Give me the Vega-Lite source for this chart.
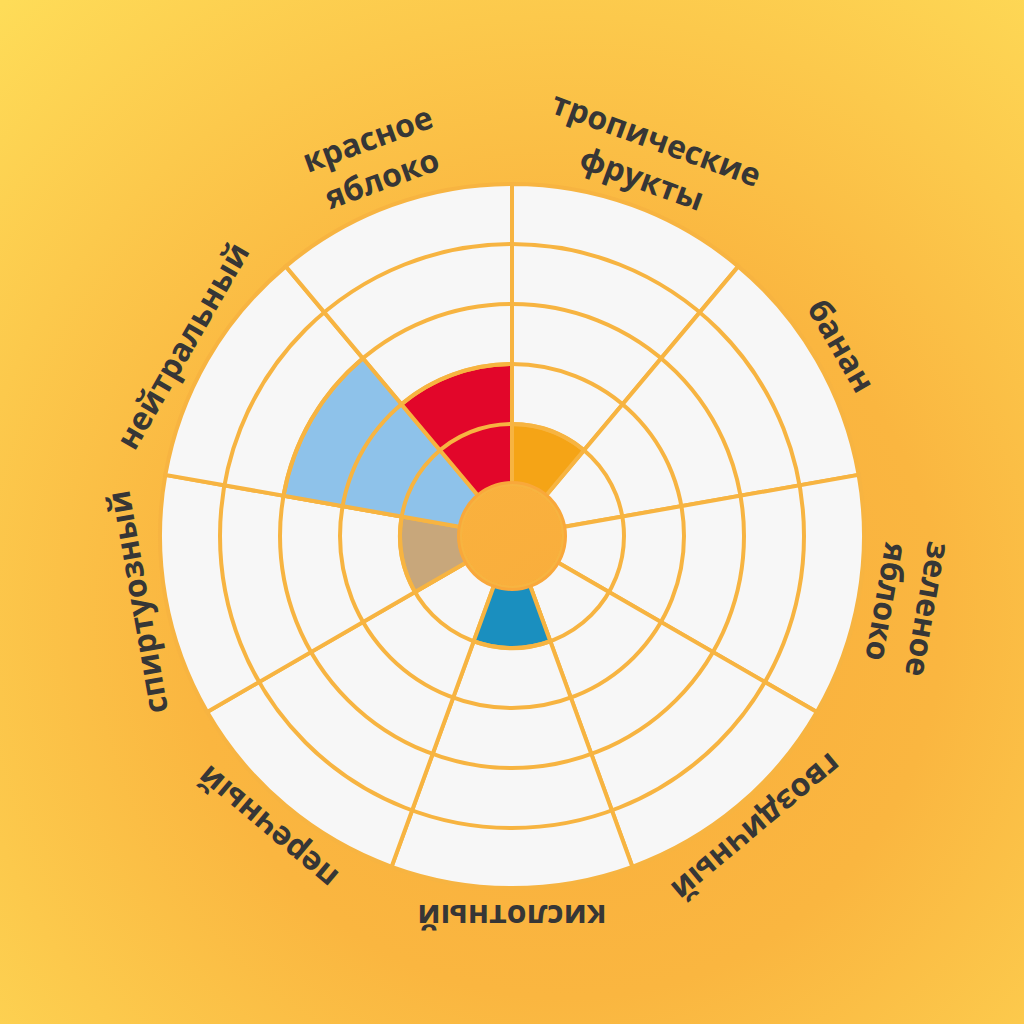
{
  "$schema": "https://vega.github.io/schema/vega-lite/v6.json",
  "width": 1024,
  "height": 1072,
  "autosize": {"type": "none"},
  "padding": {"left": 0, "top": 0, "right": 0, "bottom": -48},
  "background": "#FBC24A",
  "config": {"view": {"stroke": null}},
  "datasets": {
    "aromas": [
      {"i": 0, "aroma": "тропические фрукты", "outer": "тропические", "inner": "фрукты", "value": 1, "share": 1},
      {"i": 1, "aroma": "банан", "outer": "", "inner": "банан", "value": 0, "share": 1},
      {"i": 2, "aroma": "зеленое яблоко", "outer": "зеленое", "inner": "яблоко", "value": 0, "share": 1},
      {"i": 3, "aroma": "гвоздичный", "outer": "", "inner": "гвоздичный", "value": 0, "share": 1},
      {"i": 4, "aroma": "кислотный", "outer": "", "inner": "кислотный", "value": 1, "share": 1},
      {"i": 5, "aroma": "перечный", "outer": "", "inner": "перечный", "value": 0, "share": 1},
      {"i": 6, "aroma": "спиртуозный", "outer": "", "inner": "спиртуозный", "value": 1, "share": 1},
      {"i": 7, "aroma": "нейтральный", "outer": "", "inner": "нейтральный", "value": 3, "share": 1},
      {"i": 8, "aroma": "красное яблоко", "outer": "красное", "inner": "яблоко", "value": 2, "share": 1}
    ],
    "levels": [{"level": 1}, {"level": 2}, {"level": 3}, {"level": 4}],
    "single": [{}]
  },
  "layer": [
    {
      "data": {"name": "single"},
      "mark": {
        "type": "rect",
        "fill": {
          "gradient": "radial",
          "x1": 0.55, "y1": 0.58, "r1": 0,
          "x2": 0.55, "y2": 0.58, "r2": 0.78,
          "stops": [
            {"offset": 0, "color": "#F9AD3C"},
            {"offset": 0.45, "color": "#FAB640"},
            {"offset": 1, "color": "#FEDC58"}
          ]
        }
      },
      "encoding": {}
    },
    {
      "data": {"name": "aromas"},
      "mark": {"type": "arc", "fill": "#F7F7F7", "stroke": "#F7B441", "strokeWidth": 4},
      "encoding": {
        "theta": {"field": "share", "type": "quantitative", "stack": true},
        "order": {"field": "i", "type": "quantitative"},
        "radius": {"datum": 5, "scale": {"type": "linear", "zero": false, "domain": [0, 5], "range": [52, 352]}}
      }
    },
    {
      "data": {"name": "aromas"},
      "transform": [
        {"stack": "share", "sort": [{"field": "i"}], "groupby": [], "as": ["t0", "t1"]}
      ],
      "mark": {"type": "arc", "stroke": "#F7B441", "strokeWidth": 4},
      "encoding": {
        "theta": {"field": "t0", "type": "quantitative", "stack": null},
        "theta2": {"field": "t1"},
        "radius": {"field": "value", "type": "quantitative", "stack": null},
        "fill": {
          "field": "aroma",
          "type": "nominal",
          "legend": null,
          "scale": {
            "domain": ["тропические фрукты", "банан", "зеленое яблоко", "гвоздичный", "кислотный", "перечный", "спиртуозный", "нейтральный", "красное яблоко"],
            "range": ["#F5A416", "#F7F7F7", "#F7F7F7", "#F7F7F7", "#1A8FBF", "#F7F7F7", "#C8A77B", "#8EC2EA", "#E2062A"]
          }
        }
      }
    },
    {
      "data": {"name": "levels"},
      "mark": {"type": "arc", "filled": false, "color": "#F7B441", "strokeWidth": 4, "theta": 0, "theta2": {"expr": "2*PI"}},
      "encoding": {
        "radius": {"field": "level", "type": "quantitative", "stack": null}
      }
    },
    {
      "data": {"name": "single"},
      "mark": {"type": "arc", "fill": "#F9A83B", "theta": 0, "theta2": {"expr": "2*PI"}, "radiusOffset": 3},
      "encoding": {
        "radius": {"datum": 0}
      }
    },
    {
      "data": {"name": "aromas"},
      "mark": {
        "type": "text",
        "font": "Open Sans",
        "fontWeight": "bold",
        "fontSize": 32,
        "color": "#363636",
        "align": "center",
        "baseline": "bottom",
        "radiusOffset": 10
      },
      "encoding": {
        "theta": {"field": "share", "type": "quantitative", "stack": true},
        "order": {"field": "i", "type": "quantitative"},
        "radius": {"datum": 5},
        "text": {"field": "inner", "type": "nominal"},
        "angle": {"field": "i", "type": "quantitative", "scale": {"domain": [-0.5, 8.5], "range": [0, 360]}}
      }
    },
    {
      "data": {"name": "aromas"},
      "mark": {
        "type": "text",
        "font": "Open Sans",
        "fontWeight": "bold",
        "fontSize": 32,
        "color": "#363636",
        "align": "center",
        "baseline": "bottom",
        "radiusOffset": 52
      },
      "encoding": {
        "theta": {"field": "share", "type": "quantitative", "stack": true},
        "order": {"field": "i", "type": "quantitative"},
        "radius": {"datum": 5},
        "text": {"field": "outer", "type": "nominal"},
        "angle": {"field": "i", "type": "quantitative", "scale": {"domain": [-0.5, 8.5], "range": [0, 360]}}
      }
    }
  ]
}
